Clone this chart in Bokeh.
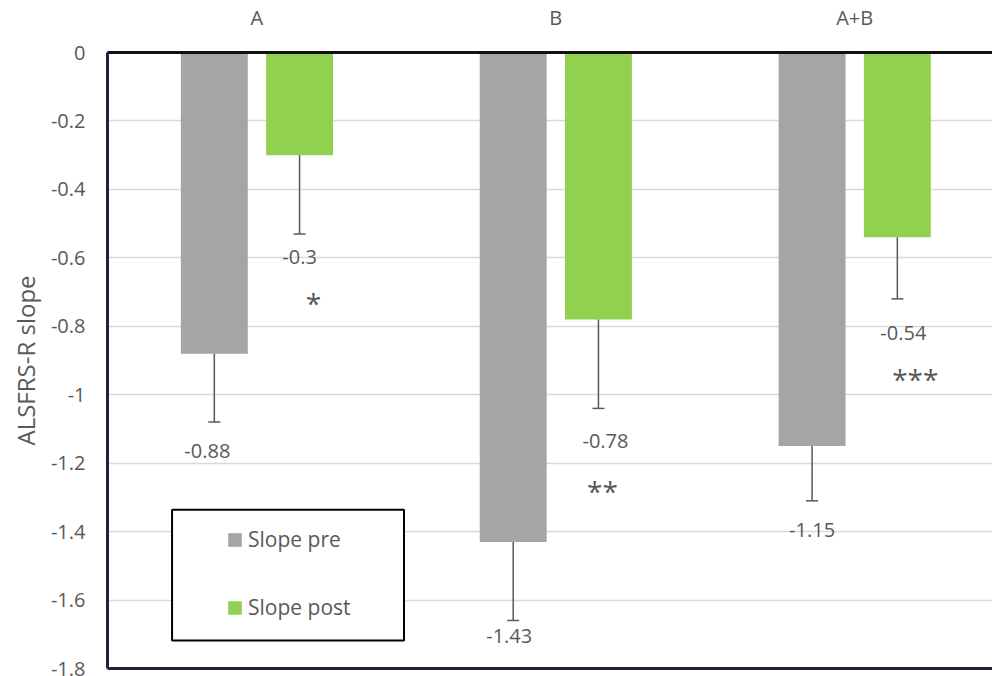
from bokeh.plotting import figure
from bokeh.models import (ColumnDataSource, Range1d, FixedTicker, LinearAxis, Whisker,
                          TeeHead, Legend, LegendItem, BoxAnnotation)
from bokeh.core.properties import value
from bokeh.embed import file_html
from bokeh.resources import INLINE

# ---- data ----
categories = ["A", "B", "A+B"]
slope_pre = [-0.88, -1.43, -1.15]
slope_post = [-0.30, -0.78, -0.54]
err_pre = [0.20, 0.23, 0.16]
err_post = [0.23, 0.26, 0.18]
significance = ["*", "**", "***"]
y_ticks = [0, -0.2, -0.4, -0.6, -0.8, -1.0, -1.2, -1.4, -1.6, -1.8]
y_tick_labels = ["0", "-0.2", "-0.4", "-0.6", "-0.8", "-1", "-1.2", "-1.4", "-1.6", "-1.8"]

# ---- styles ----
FONT = "Open Sans"
TXT = "#595959"
GRAY = "#a5a5a5"
GREEN = "#92d050"
BORDER = "#2b1a42"
bar_w = 0.224
dodge = 0.1426
label_dx_pre = [-7, -4, 0]
label_dy_pre = [29, 15, 29]
label_dx_post = [0, 7, 6]
label_dy_post = [23, 33, 34]
star_dx = [14, 4, 18]
star_dy = [69, 83, 80]

centers = [i + 0.5 for i in range(len(categories))]
x_pre = [c - dodge for c in centers]
x_post = [c + dodge for c in centers]
low_pre = [v - e for v, e in zip(slope_pre, err_pre)]
low_post = [v - e for v, e in zip(slope_post, err_post)]

src_pre = ColumnDataSource(dict(x=x_pre, v=slope_pre, low=low_pre,
                                lab=[f"{v:g}" for v in slope_pre],
                                dx=label_dx_pre, dy=label_dy_pre))
src_post = ColumnDataSource(dict(x=x_post, v=slope_post, low=low_post,
                                 lab=[f"{v:g}" for v in slope_post],
                                 dx=label_dx_post, dy=label_dy_post,
                                 star=significance, sdx=star_dx, sdy=star_dy))

p = figure(width=992, height=676, output_backend="svg", toolbar_location=None,
           x_range=Range1d(0, 2.961), y_range=Range1d(-1.8, 0),
           min_border_left=107, min_border_right=0, min_border_top=51, min_border_bottom=8)
p.outline_line_color = None
p.background_fill_color = "white"
p.xgrid.grid_line_color = None
p.ygrid.ticker = FixedTicker(ticks=y_ticks)
p.ygrid.grid_line_color = "#d9d9d9"
p.ygrid.grid_line_width = 1.5

# left axis
ya = p.yaxis[0]
ya.ticker = FixedTicker(ticks=y_ticks)
ya.major_label_overrides = {t: l for t, l in zip(y_ticks, y_tick_labels)}
ya.major_tick_line_color = None
ya.minor_tick_line_color = None
ya.major_tick_out = 0
ya.major_tick_in = 0
ya.minor_tick_out = 0
ya.axis_line_color = BORDER
ya.axis_line_width = 3
ya.major_label_text_font = FONT
ya.major_label_text_font_size = "20px"
ya.major_label_text_color = TXT
ya.major_label_standoff = 22
ya.axis_label = "ALSFRS-R slope"
ya.axis_label_text_font = FONT
ya.axis_label_text_font_size = "24px"
ya.axis_label_text_font_style = "normal"
ya.axis_label_text_color = TXT
ya.axis_label_standoff = 6

# bottom axis = border only
xa = p.xaxis[0]
xa.ticker = FixedTicker(ticks=[])
xa.major_tick_line_color = None
xa.minor_tick_line_color = None
xa.major_tick_out = 0
xa.major_tick_in = 0
xa.minor_tick_out = 0
xa.major_label_standoff = 0
xa.axis_label_standoff = 0
xa.axis_line_color = BORDER
xa.axis_line_width = 3
xa.major_label_text_font_size = "0px"

# top axis with category names
ta = LinearAxis(ticker=FixedTicker(ticks=centers),
                major_label_overrides={c: n for c, n in zip(centers, categories)})
ta.major_tick_line_color = None
ta.minor_tick_line_color = None
ta.major_tick_out = 0
ta.major_tick_in = 0
ta.minor_tick_out = 0
ta.axis_line_color = "#111111"
ta.axis_line_width = 3
ta.major_label_text_font = FONT
ta.major_label_text_font_size = "20px"
ta.major_label_text_color = TXT
ta.major_label_standoff = 22
p.add_layout(ta, "above")

r_pre = p.vbar(x="x", top=0, bottom="v", width=bar_w, source=src_pre,
               fill_color=GRAY, line_color=None)
r_post = p.vbar(x="x", top=0, bottom="v", width=bar_w, source=src_post,
                fill_color=GREEN, line_color=None)

for src in (src_pre, src_post):
    w = Whisker(base="x", upper="v", lower="low", source=src, dimension="height",
                line_color=TXT, line_width=1.5, upper_head=None,
                lower_head=TeeHead(size=12, line_color=TXT, line_width=1.5), level="overlay")
    p.add_layout(w)

for src in (src_pre, src_post):
    p.text(x="x", y="low", text="lab", x_offset="dx", y_offset="dy", source=src,
           text_font=value(FONT), text_font_size="20px", text_color=TXT,
           text_align="center", text_baseline="middle")

p.text(x="x", y="low", text="star", x_offset="sdx", y_offset="sdy", source=src_post,
       text_font=value(FONT), text_font_size="28px", text_color=TXT,
       text_align="center", text_baseline="middle")

# legend box
box = BoxAnnotation(left=0.216, right=0.992, top=-1.336, bottom=-1.718,
                    fill_color="white", fill_alpha=1.0, line_color="black",
                    line_alpha=1.0, line_width=2)
p.add_layout(box)

legend = Legend(items=[LegendItem(label="Slope pre", renderers=[r_pre]),
                       LegendItem(label="Slope post", renderers=[r_post])],
                location=(119, 47), border_line_color=None, background_fill_alpha=0,
                padding=0, margin=0, spacing=40, label_height=26,
                glyph_width=17, glyph_height=17, label_standoff=5,
                label_text_font=FONT, label_text_font_size="21px", label_text_color=TXT)
p.add_layout(legend)

open("out.html", "w").write(file_html(p, INLINE))
